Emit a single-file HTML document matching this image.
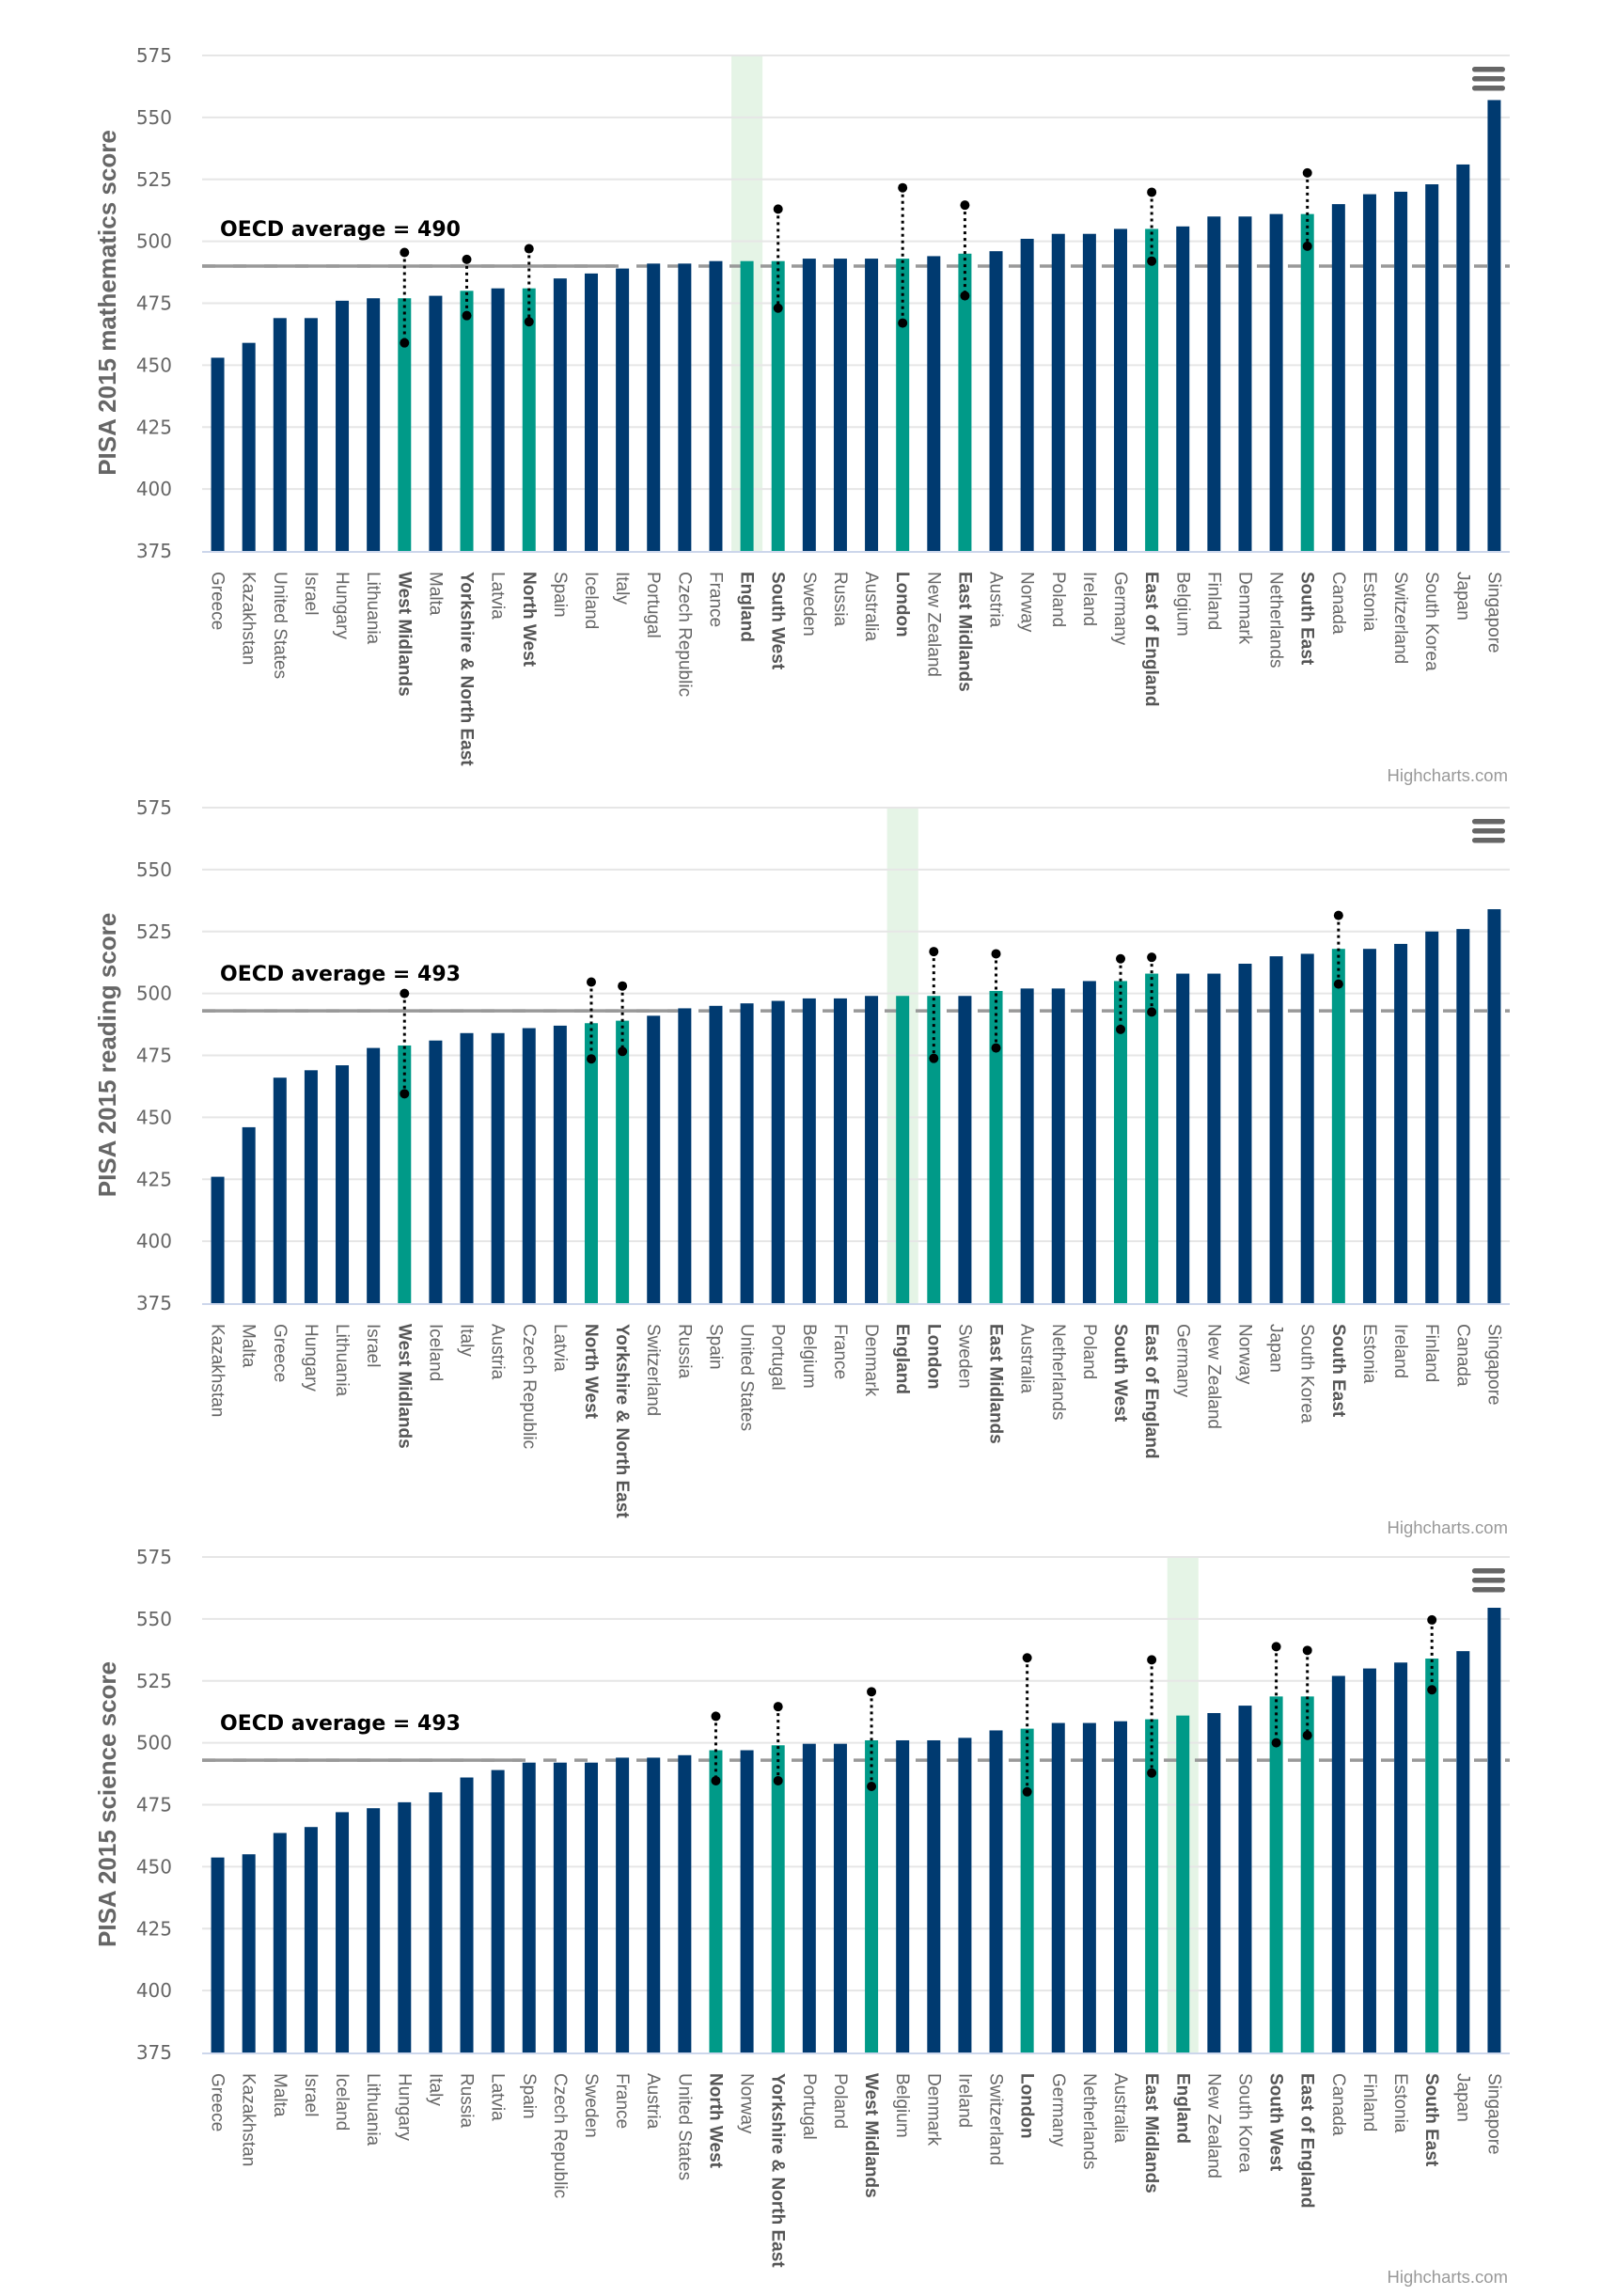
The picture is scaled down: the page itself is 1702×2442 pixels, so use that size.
<!DOCTYPE html>
<html><head><meta charset="utf-8"><style>
html,body{margin:0;padding:0;background:#fff;}
svg{display:block;font-family:"Liberation Sans",Arial,sans-serif;}
</style></head><body>
<svg id="root" width="1702" height="2442" viewBox="0 0 1702 2442" xmlns="http://www.w3.org/2000/svg"></svg>
<script>
// ---------- Chart 1: mathematics ----------
const mathCategories = ["Greece","Kazakhstan","United States","Israel","Hungary","Lithuania","West Midlands","Malta","Yorkshire & North East","Latvia","North West","Spain","Iceland","Italy","Portugal","Czech Republic","France","England","South West","Sweden","Russia","Australia","London","New Zealand","East Midlands","Austria","Norway","Poland","Ireland","Germany","East of England","Belgium","Finland","Denmark","Netherlands","South East","Canada","Estonia","Switzerland","South Korea","Japan","Singapore"];
const mathValues = [453,459,469,469,476,477,477,478,480,481,481,485,487,489,491,491,492,492,492,493,493,493,493,494,495,496,501,503,503,505,505,506,510,510,511,511,515,519,520,523,531,557];
const mathCiLow = {"West Midlands":459,"Yorkshire & North East":470,"North West":467.5,"South West":473,"London":467,"East Midlands":478,"East of England":492,"South East":498};
const mathCiHigh = {"West Midlands":495.5,"Yorkshire & North East":492.7,"North West":497,"South West":513,"London":521.6,"East Midlands":514.6,"East of England":519.8,"South East":527.6};
const mathOecd = 490;

// ---------- Chart 2: reading ----------
const readCategories = ["Kazakhstan","Malta","Greece","Hungary","Lithuania","Israel","West Midlands","Iceland","Italy","Austria","Czech Republic","Latvia","North West","Yorkshire & North East","Switzerland","Russia","Spain","United States","Portugal","Belgium","France","Denmark","England","London","Sweden","East Midlands","Australia","Netherlands","Poland","South West","East of England","Germany","New Zealand","Norway","Japan","South Korea","South East","Estonia","Ireland","Finland","Canada","Singapore"];
const readValues = [426,446,466,469,471,478,479,481,484,484,486,487,488,489,491,494,495,496,497,498,498,499,499,499,499,501,502,502,505,505,508,508,508,512,515,516,518,518,520,525,526,534];
const readCiLow = {"West Midlands":459.5,"North West":473.6,"Yorkshire & North East":476.6,"London":473.8,"East Midlands":478,"South West":485.5,"East of England":492.5,"South East":503.8};
const readCiHigh = {"West Midlands":500,"North West":504.6,"Yorkshire & North East":503,"London":516.9,"East Midlands":516,"South West":514,"East of England":514.6,"South East":531.5};
const readOecd = 493;

// ---------- Chart 3: science ----------
const sciCategories = ["Greece","Kazakhstan","Malta","Israel","Iceland","Lithuania","Hungary","Italy","Russia","Latvia","Spain","Czech Republic","Sweden","France","Austria","United States","North West","Norway","Yorkshire & North East","Portugal","Poland","West Midlands","Belgium","Denmark","Ireland","Switzerland","London","Germany","Netherlands","Australia","East Midlands","England","New Zealand","South Korea","South West","East of England","Canada","Finland","Estonia","South East","Japan","Singapore"];
const sciValues = [453.7,455,463.6,466,472,473.6,476,480,486,489,492,492,492,494,494,495,497,497,499,499.6,499.6,501,501,501,502,505,505.7,508,508,508.7,509.5,511,512,515,518.7,518.7,527,530,532.4,534,537,554.5];
const sciCiLow = {"North West":484.7,"Yorkshire & North East":484.7,"West Midlands":482.4,"London":480.2,"East Midlands":487.8,"South West":500,"East of England":503,"South East":521.4};
const sciCiHigh = {"North West":510.7,"Yorkshire & North East":514.6,"West Midlands":520.6,"London":534.3,"East Midlands":533.5,"South West":538.8,"East of England":537.3,"South East":549.6};
const sciOecd = 493;

const yTicks = [375,400,425,450,475,500,525,550,575];
const regionNames = ["West Midlands","Yorkshire & North East","North West","South West","London","East Midlands","East of England","South East","England"];

const NS = "http://www.w3.org/2000/svg";
const root = document.getElementById("root");
function mk(tag, attrs, parent){
  const e = document.createElementNS(NS, tag);
  for (const k in attrs) e.setAttribute(k, attrs[k]);
  (parent||root).appendChild(e);
  return e;
}
const DJ = '"DejaVu Sans", "Liberation Sans", sans-serif';

function drawChart(opt){
  const g = mk("g", {});
  
  
  const L = 215, R = 1606, T = opt.top, H = 527, B = T + H;
  const n = opt.categories.length;
  const cw = (R - L) / n;
  const y = v => B - (v - 375) / 200 * H;
  const xc = i => L + cw * (i + 0.5);

  const ei = opt.categories.indexOf("England");
  const band = mk("rect", {x: L + cw*ei, y: T, width: cw, height: H, fill: "#e5f4e6"}, g);
  
  

  yTicks.forEach(t => {
    if (t !== 375) {
      const gl = mk("line", {x1: L, x2: R, y1: y(t), y2: y(t), stroke: "#e6e6e6", "stroke-width": 2}, g);
      
      
    }
    const tl = mk("text", {x: 183, y: y(t) + 7, "text-anchor": "end", "font-size": 20, fill: "#666", "font-family": DJ}, g);
    tl.textContent = t;
    
    
  });

  const yt = mk("text", {x: 0, y: 0, transform: "translate(123," + (T + 263) + ") rotate(-90)", "text-anchor": "middle", "font-size": 26, "font-weight": "bold", fill: "#666"}, g);
  yt.textContent = opt.title;
  
  

  const oy = y(opt.oecd);
  const od = mk("line", {x1: L, x2: R, y1: oy, y2: oy, stroke: "#999", "stroke-width": 3.5, "stroke-dasharray": "14,19"}, g);
  
  
  const os = mk("line", {x1: L, x2: opt.solidEnd, y1: oy, y2: oy, stroke: "#999", "stroke-width": 3.5}, g);
  
  

  opt.categories.forEach((c, i) => {
    const v = opt.values[i];
    const teal = regionNames.indexOf(c) >= 0;
    const b = mk("rect", {x: xc(i) - 7, y: y(v), width: 14, height: B - y(v), fill: teal ? "#009a88" : "#003a70"}, g);
    
    
  });

  const ax = mk("line", {x1: L, x2: R, y1: B + 1, y2: B + 1, stroke: "#ccd6eb", "stroke-width": 2}, g);
  
  

  opt.categories.forEach((c, i) => {
    if (opt.ciLow[c] === undefined) return;
    const lo = y(opt.ciLow[c]), hi = y(opt.ciHigh[c]);
    const el = mk("line", {x1: xc(i), x2: xc(i), y1: hi, y2: lo, stroke: "#000", "stroke-width": 3, "stroke-dasharray": "3,4"}, g);
    
    
    [hi, lo].forEach(py => {
      const d = mk("circle", {cx: xc(i), cy: py, r: 5, fill: "#000"}, g);
      
      
    });
  });

  const ol = mk("text", {x: 234, y: oy - 32, "font-size": 22, "font-weight": "bold", fill: "#000", "font-family": DJ}, g);
  ol.textContent = "OECD average = " + opt.oecd;
  
  

  opt.categories.forEach((c, i) => {
    const bold = regionNames.indexOf(c) >= 0;
    const t = mk("text", {x: 0, y: 0, transform: "translate(" + (xc(i) - 6) + "," + (B + 22) + ") rotate(90)", "font-size": 19, "font-weight": bold ? "bold" : "normal", fill: bold ? "#555" : "#666"}, g);
    t.textContent = c;
    
    
  });

  const mg = mk("g", {}, g);
  
  
  [12, 22, 32].forEach(dy => {
    mk("rect", {x: 1566, y: T + dy, width: 35, height: 5.5, rx: 2.75, fill: "#666"}, mg);
  });

  const cr = mk("text", {x: 1604, y: T + 772, "text-anchor": "end", "font-size": 18.5, fill: "#999"}, g);
  cr.textContent = "Highcharts.com";
  
  
}

drawChart({key: "mathematics", top: 59, title: "PISA 2015 mathematics score", categories: mathCategories, values: mathValues, ciLow: mathCiLow, ciHigh: mathCiHigh, oecd: mathOecd, solidEnd: 654});
drawChart({key: "reading", top: 859, title: "PISA 2015 reading score", categories: readCategories, values: readValues, ciLow: readCiLow, ciHigh: readCiHigh, oecd: readOecd, solidEnd: 720});
drawChart({key: "science", top: 1656, title: "PISA 2015 science score", categories: sciCategories, values: sciValues, ciLow: sciCiLow, ciHigh: sciCiHigh, oecd: sciOecd, solidEnd: 555});
</script>
</body></html>
